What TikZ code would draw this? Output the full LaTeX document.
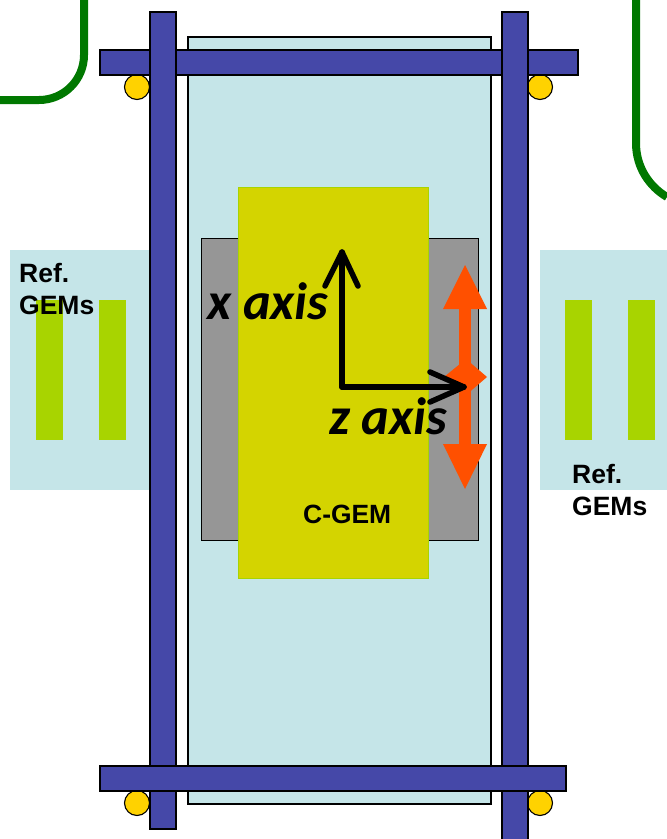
\documentclass[tikz,border=0pt]{standalone}
\usepackage{fontspec}
\setmainfont{Liberation Sans}
\newfontfamily\axisfont{Carlito}
\usepackage{tikz}
\usetikzlibrary{calc}
\definecolor{panelcol}{HTML}{C5E5E8}
\definecolor{barcol}{HTML}{4548A8}
\definecolor{pincol}{HTML}{FFD200}
\definecolor{wirecol}{HTML}{007800}
\definecolor{greycol}{HTML}{969696}
\definecolor{cgemcol}{HTML}{D4D400}
\definecolor{refcol}{HTML}{A8D400}
\definecolor{movecol}{HTML}{FF5000}
\tikzset{
  bar/.style={fill=barcol, draw=black, line width=1.3bp},
  pin/.style={fill=pincol, draw=black, line width=1.1bp},
  wire/.style={draw=wirecol, line width=8bp},
  axisline/.style={black, line width=5.5bp, line cap=round, line join=round},
  reflabel/.style={font=\bfseries\fontsize{26.5bp}{32.5bp}\selectfont, align=left, anchor=north west, inner sep=0pt},
  axislabel/.style={font=\axisfont\bfseries\itshape\fontsize{52.5bp}{52.5bp}\selectfont, anchor=base west, inner sep=0pt}
}
\begin{document}
\begin{tikzpicture}[x=1bp,y=-1bp]
\useasboundingbox (0,0) rectangle (667,839);

\coordinate (O) at (342,387);
\coordinate (X) at (342,252);
\coordinate (Z) at (464,387);

% beam pipes at the corners
\draw[wire] (0,100) -- (39,100) arc (90:0:45) -- (84,0);
\draw[wire] (636,0) -- (636,143) .. controls (636,168) and (650,187) .. (667,197);

% reference chambers
\fill[panelcol] (10,250) rectangle (150,490);
\fill[panelcol] (540,250) rectangle (667,490);
\foreach \point in {36,99,565,628}
\fill[refcol] (\point,300) rectangle ++(27,140);

% frame
\draw[fill=panelcol, draw=black, line width=1.2bp] (188,37) rectangle (491,804);
\fill[greycol, draw=black, line width=1bp] (201,238) rectangle (478,540);
\fill[cgemcol, draw=refcol, line width=0.7bp] (238,187) rectangle (428,578);

\foreach \point in {(137,87),(540,87),(137,803),(540,803)}
\draw[pin] \point circle (12.5);

\draw[bar] (100,50) rectangle (578,75);
\draw[bar] (150,12) rectangle (176,829);
\draw[bar] (502,12) rectangle (528,845);
\draw[bar] (100,766) rectangle (566,791);

% movement of the C-GEM
\fill[movecol] (459,300) rectangle (471,450);
\fill[movecol] (465,265) -- (487,309) -- (443,309) -- cycle;
\fill[movecol] (465,489) -- (487,444) -- (443,444) -- cycle;
\fill[movecol] (444,377) -- (466,359) -- (487,377) -- (466,395) -- cycle;

% axes
\draw[axisline] (O) -- (X);
\draw[axisline] (325,286) -- (X) -- (358,286);
\draw[axisline] (O) -- (Z);
\draw[axisline] (430,372) -- (Z) -- (430,402);

\node[axislabel] (x_label) at (207,319) {x axis};
\node[axislabel] (z_label) at (329,434) {z axis};

\node[reflabel] (ref_left) at (19,263) {Ref.\\GEMs};
\node[reflabel] (ref_right) at (572,464) {Ref.\\GEMs};
\node[anchor=base west, inner sep=0pt, font=\bfseries\fontsize{26.4bp}{26.4bp}\selectfont] (cgem_label) at (303,523) {C-GEM};

\end{tikzpicture}
\end{document}
